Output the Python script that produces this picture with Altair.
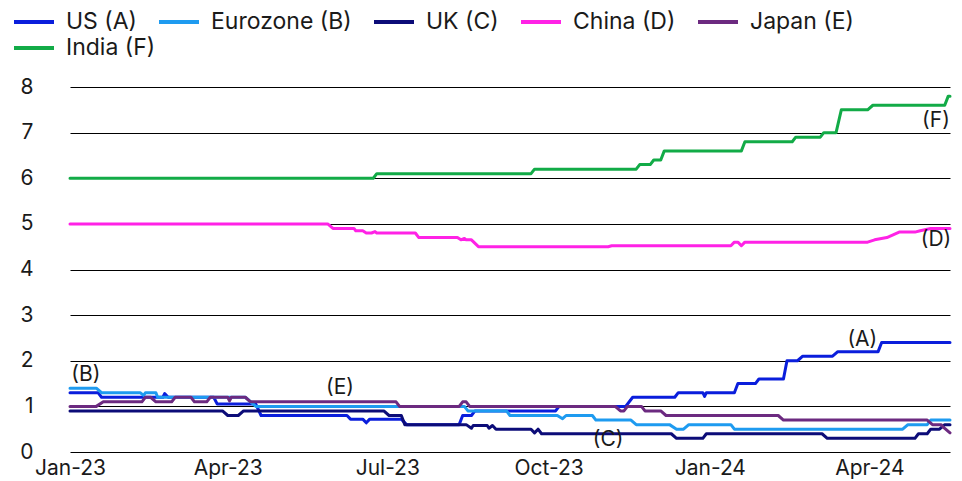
import altair as alt
import pandas as pd

series_names = ["US (A)", "Eurozone (B)", "UK (C)", "China (D)", "Japan (E)", "India (F)"]
series_colors = ["#0A1EDC", "#1E9BF0", "#0C0C78", "#FF22E6", "#6C2A80", "#12AB47"]

us_dates = ["2023-01-01", "2023-01-17", "2023-01-19", "2023-02-23", "2023-02-24", "2023-02-26",
            "2023-03-24", "2023-03-26", "2023-04-17", "2023-04-20", "2023-06-08", "2023-06-10",
            "2023-06-17", "2023-06-19", "2023-06-21", "2023-07-09", "2023-07-12", "2023-08-11",
            "2023-08-13", "2023-08-18", "2023-08-20", "2023-10-05", "2023-10-07", "2023-11-14",
            "2023-11-18", "2023-12-12", "2023-12-14", "2023-12-28", "2023-12-29", "2023-12-30",
            "2024-01-15", "2024-01-17", "2024-01-27", "2024-01-29", "2024-02-12", "2024-02-14",
            "2024-02-20", "2024-02-23", "2024-03-11", "2024-03-14", "2024-04-06", "2024-04-08",
            "2024-05-17"]
us_values = [1.3, 1.3, 1.2, 1.2, 1.28, 1.2,
             1.2, 1.05, 1.05, 0.8, 0.8, 0.72,
             0.72, 0.64, 0.72, 0.72, 0.6, 0.6,
             0.8, 0.8, 0.9, 0.9, 1.0, 1.0,
             1.2, 1.2, 1.3, 1.3, 1.22, 1.3,
             1.3, 1.5, 1.5, 1.6, 1.6, 2.0,
             2.0, 2.1, 2.1, 2.2, 2.2, 2.4,
             2.4]

ez_dates = ["2023-01-01", "2023-01-16", "2023-01-19", "2023-02-10", "2023-02-12", "2023-02-13",
            "2023-02-19", "2023-02-20", "2023-04-11", "2023-04-17", "2023-08-14", "2023-08-16",
            "2023-09-07", "2023-09-09", "2023-10-06", "2023-10-09", "2023-10-11", "2023-10-26",
            "2023-10-28", "2023-11-17", "2023-11-20", "2023-12-09", "2023-12-13", "2023-12-17",
            "2023-12-20", "2024-01-13", "2024-01-15", "2024-04-20", "2024-04-23", "2024-05-04",
            "2024-05-06", "2024-05-17"]
ez_values = [1.4, 1.4, 1.3, 1.3, 1.24, 1.3,
             1.3, 1.2, 1.2, 1.0, 1.0, 0.9,
             0.9, 0.8, 0.8, 0.73, 0.8, 0.8,
             0.7, 0.7, 0.6, 0.6, 0.5, 0.5,
             0.6, 0.6, 0.5, 0.5, 0.6, 0.6,
             0.7, 0.7]

uk_dates = ["2023-01-01", "2023-03-29", "2023-04-01", "2023-04-07", "2023-04-10", "2023-06-29",
            "2023-07-02", "2023-07-09", "2023-07-11", "2023-08-15", "2023-08-18", "2023-08-19",
            "2023-08-27", "2023-08-28", "2023-08-30", "2023-09-01", "2023-09-21", "2023-09-23",
            "2023-09-25", "2023-09-27", "2023-12-10", "2023-12-13", "2023-12-28", "2023-12-30",
            "2024-03-05", "2024-03-08", "2024-04-27", "2024-04-29", "2024-05-04", "2024-05-06",
            "2024-05-11", "2024-05-14", "2024-05-17"]
uk_values = [0.9, 0.9, 0.8, 0.8, 0.9, 0.9,
             0.8, 0.8, 0.6, 0.6, 0.52, 0.58,
             0.58, 0.52, 0.58, 0.5, 0.5, 0.42,
             0.5, 0.4, 0.4, 0.3, 0.3, 0.4,
             0.4, 0.3, 0.3, 0.4, 0.4, 0.5,
             0.5, 0.6, 0.6]

cn_dates = ["2023-01-01", "2023-05-28", "2023-05-31", "2023-06-12", "2023-06-13", "2023-06-17",
            "2023-06-19", "2023-06-22", "2023-06-24", "2023-06-25", "2023-07-17", "2023-07-19",
            "2023-08-10", "2023-08-12", "2023-08-14", "2023-08-15", "2023-08-18", "2023-08-22",
            "2023-11-04", "2023-11-06", "2024-01-13", "2024-01-15", "2024-01-17", "2024-01-19",
            "2024-01-21", "2024-03-31", "2024-04-04", "2024-04-11", "2024-04-18", "2024-04-27",
            "2024-04-30", "2024-05-06", "2024-05-17"]
cn_values = [5.0, 5.0, 4.9, 4.9, 4.85, 4.85,
             4.8, 4.8, 4.83, 4.8, 4.8, 4.7,
             4.7, 4.65, 4.68, 4.65, 4.65, 4.5,
             4.5, 4.52, 4.52, 4.6, 4.6, 4.52,
             4.6, 4.6, 4.65, 4.7, 4.82, 4.82,
             4.85, 4.9, 4.9]

jp_dates = ["2023-01-01", "2023-01-16", "2023-01-20", "2023-02-11", "2023-02-13", "2023-02-16",
            "2023-02-19", "2023-02-28", "2023-03-02", "2023-03-11", "2023-03-13", "2023-03-20",
            "2023-03-22", "2023-04-01", "2023-04-02", "2023-04-03", "2023-04-11", "2023-04-14",
            "2023-07-06", "2023-07-08", "2023-08-11", "2023-08-13", "2023-08-15", "2023-08-17",
            "2023-11-08", "2023-11-11", "2023-11-13", "2023-11-15", "2023-11-23", "2023-11-25",
            "2023-12-04", "2023-12-07", "2024-02-09", "2024-02-12", "2024-05-04", "2024-05-07",
            "2024-05-12", "2024-05-13", "2024-05-17"]
jp_values = [1.0, 1.0, 1.1, 1.1, 1.2, 1.2,
             1.1, 1.1, 1.2, 1.2, 1.1, 1.1,
             1.2, 1.2, 1.12, 1.2, 1.2, 1.1,
             1.1, 1.0, 1.0, 1.1, 1.1, 1.0,
             1.0, 0.9, 0.9, 1.0, 1.0, 0.9,
             0.9, 0.8, 0.8, 0.7, 0.7, 0.6,
             0.6, 0.55, 0.42]

in_dates = ["2023-01-01", "2023-06-23", "2023-06-25", "2023-09-21", "2023-09-23", "2023-11-20",
            "2023-11-22", "2023-11-28", "2023-11-30", "2023-12-04", "2023-12-06", "2024-01-19",
            "2024-01-21", "2024-02-17", "2024-02-19", "2024-03-04", "2024-03-06", "2024-03-13",
            "2024-03-16", "2024-03-31", "2024-04-03", "2024-05-14", "2024-05-16", "2024-05-17"]
in_values = [6.0, 6.0, 6.1, 6.1, 6.2, 6.2,
             6.3, 6.3, 6.4, 6.4, 6.6, 6.6,
             6.8, 6.8, 6.9, 6.9, 7.0, 7.0,
             7.5, 7.5, 7.6, 7.6, 7.8, 7.8]

label_texts = ["(A)", "(B)", "(C)", "(D)", "(E)", "(F)"]
label_dates = ["2024-03-28", "2023-01-10", "2023-11-04", "2024-05-09", "2023-06-04", "2024-05-09"]
label_values = [2.46, 1.69, 0.26, 4.65, 1.40, 7.26]

y_ticks = [0, 1, 2, 3, 4, 5, 6, 7, 8]

all_dates = [us_dates, ez_dates, uk_dates, cn_dates, jp_dates, in_dates]
all_values = [us_values, ez_values, uk_values, cn_values, jp_values, in_values]

frames = []
for i, (name, ds, vs) in enumerate(zip(series_names, all_dates, all_values)):
    frames.append(pd.DataFrame({"date": ds, "value": vs, "series": name, "ord": i}))
df = pd.concat(frames, ignore_index=True)
df_main = df[df["series"] != series_names[5]]
df_india = df[df["series"] == series_names[5]]

ann = pd.DataFrame({"date": label_dates, "value": label_values, "text": label_texts})

FONT = "Inter"
TXT = "#1a1a1a"
FS = 21
LFS = 23

x_scale = alt.Scale(type="utc", domain=[alt.DateTime(year=2023, month=1, date=1, utc=True),
                                        alt.DateTime(year=2024, month=5, date=17, utc=True)])
x_vals = [alt.DateTime(year=y, month=m, date=1, utc=True)
          for (y, m) in [(2023, 1), (2023, 4), (2023, 7), (2023, 10), (2024, 1), (2024, 4)]]
x_axis = alt.Axis(values=x_vals, labelExpr="utcFormat(datum.value, '%b-%y')", grid=False,
                  domain=False, ticks=False, tickSize=0, labelPadding=5, labelFontSize=FS,
                  labelFont=FONT, labelColor=TXT, title=None, labelFlush=False, labelOverlap=False)
y_scale = alt.Scale(domain=[0, 8], nice=False)
y_axis = alt.Axis(values=y_ticks, grid=True, gridColor="#000000", gridWidth=1, domain=False,
                  ticks=False, tickSize=0, labelPadding=37, labelFontSize=FS, labelFont=FONT,
                  labelColor=TXT, title=None)

legend_common = dict(orient="none", legendX=-58, direction="horizontal", symbolType="stroke",
                     symbolSize=1600, symbolStrokeWidth=4, labelFontSize=LFS, labelFont=FONT,
                     labelColor=TXT, columnPadding=14, labelOffset=10, title=None)

lines = alt.Chart(df_main).mark_line(strokeWidth=3, strokeJoin="round", strokeCap="round").encode(
    x=alt.X("date:T", scale=x_scale, axis=x_axis),
    y=alt.Y("value:Q", scale=y_scale, axis=y_axis),
    color=alt.Color("series:N", scale=alt.Scale(domain=series_names[:5], range=series_colors[:5]),
                    legend=alt.Legend(legendY=-87, columns=5, **legend_common)),
    order=alt.Order("ord:Q"),
)

india = alt.Chart(df_india).mark_line(strokeWidth=3, strokeJoin="round", strokeCap="round").encode(
    x=alt.X("date:T", scale=x_scale, axis=x_axis),
    y=alt.Y("value:Q", scale=y_scale, axis=y_axis),
    stroke=alt.Stroke("series:N", scale=alt.Scale(domain=series_names[5:], range=series_colors[5:]),
                      legend=alt.Legend(legendY=-61, columns=1, **legend_common)),
)

texts = alt.Chart(ann).mark_text(fontSize=FS, font=FONT, color=TXT, align="center",
                                 baseline="middle").encode(
    x=alt.X("date:T", scale=x_scale, axis=x_axis),
    y=alt.Y("value:Q", scale=y_scale, axis=y_axis),
    text="text:N",
)

chart = alt.layer(lines, india, texts).properties(
    width=880, height=365,
    autosize=alt.AutoSizeParams(type="none"),
    padding={"left": 62, "top": 79, "right": 4, "bottom": 27},
).configure_view(stroke=None)

chart.save("out.html", embed_options={"renderer": "svg", "actions": False})
